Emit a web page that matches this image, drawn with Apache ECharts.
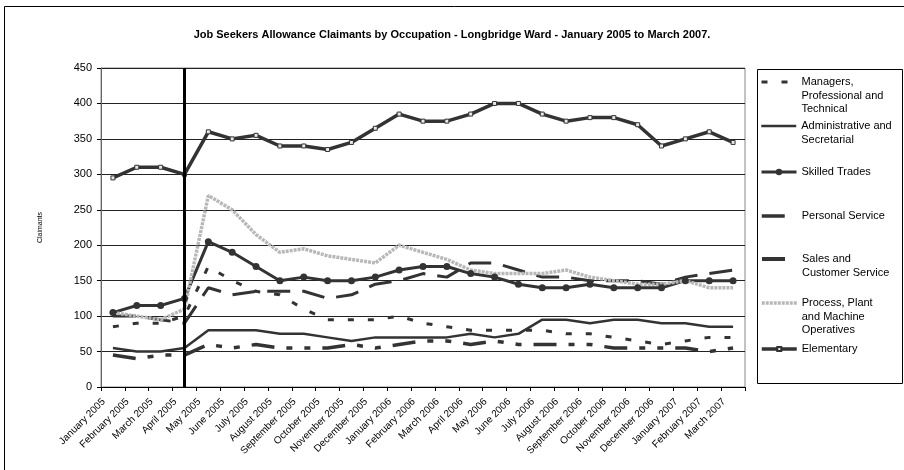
<!DOCTYPE html>
<html>
<head>
<meta charset="utf-8">
<title>Job Seekers Allowance Claimants by Occupation - Longbridge Ward</title>
<script src="https://cdn.jsdelivr.net/npm/echarts@6/dist/echarts.min.js"></script>
<style>
  html, body { margin: 0; padding: 0; background: #fff; }
  #chart { width: 904px; height: 470px; }
</style>
</head>
<body>
<div id="chart"></div>
<script>
// Months on the category axis
const months = [
  'January 2005', 'February 2005', 'March 2005', 'April 2005', 'May 2005', 'June 2005',
  'July 2005', 'August 2005', 'September 2005', 'October 2005', 'November 2005', 'December 2005',
  'January 2006', 'February 2006', 'March 2006', 'April 2006', 'May 2006', 'June 2006',
  'July 2006', 'August 2006', 'September 2006', 'October 2006', 'November 2006', 'December 2006',
  'January 2007', 'February 2007', 'March 2007'
];

// Claimant counts per occupation group
const managers   = [85, 90, 90, 100, 170, 150, 135, 130, 110, 95, 95, 95, 100, 90, 85, 80, 80, 80, 80, 75, 75, 70, 65, 60, 65, 70, 70];
const admin      = [55, 50, 50, 55, 80, 80, 80, 75, 75, 70, 65, 70, 70, 70, 70, 75, 70, 75, 95, 95, 90, 95, 95, 90, 90, 85, 85];
const skilled    = [105, 115, 115, 125, 205, 190, 170, 150, 155, 150, 150, 155, 165, 170, 170, 160, 155, 145, 140, 140, 145, 140, 140, 140, 150, 150, 150];
const personal   = [100, 100, 95, 90, 140, 130, 135, 135, 135, 125, 130, 145, 150, 160, 155, 175, 175, 165, 155, 155, 150, 150, 150, 145, 155, 160, 165];
const sales      = [45, 40, 45, 45, 60, 55, 60, 55, 55, 55, 60, 55, 60, 65, 65, 60, 65, 60, 60, 60, 60, 55, 55, 55, 55, 50, 55];
const process    = [105, 100, 95, 110, 270, 250, 215, 190, 195, 185, 180, 175, 200, 190, 180, 165, 160, 160, 160, 165, 155, 150, 145, 145, 150, 140, 140];
const elementary = [295, 310, 310, 300, 360, 350, 355, 340, 340, 335, 345, 365, 385, 375, 375, 385, 400, 400, 385, 375, 380, 380, 370, 340, 350, 360, 345];

// Legend entries: series name and its wrapped label lines
const legendNames = [
  ['Managers, Professional and Technical', ['Managers,', 'Professional and', 'Technical']],
  ['Administrative and Secretarial', ['Administrative and', 'Secretarial']],
  ['Skilled Trades', ['Skilled Trades']],
  ['Personal Service', ['Personal Service']],
  ['Sales and Customer Service', ['Sales and', 'Customer Service']],
  ['Process, Plant and Machine Operatives', ['Process, Plant', 'and Machine', 'Operatives']],
  ['Elementary', ['Elementary']]
];
const legendRowY = [82, 126, 172, 216, 259, 303, 349];
// marker visibility, key height and key line width for each legend row
const legendMarker = [false, false, true, false, false, false, true];
const legendKeyHeight = [12, 12, 8, 12, 12, 12, 5];
const legendKeyWidth = [3, 2.5, 3, 3.5, 4, 3.5, 3.5];

const FONT = '"Liberation Sans", Arial, sans-serif';
const DARK = '#333333';
const LH = 13.7;

const chart = echarts.init(document.getElementById('chart'), null, { renderer: 'canvas' });

// One legend block per entry so the key line sits beside the first text line
const legends = legendNames.map(function (entry, i) {
  const lines = entry[1];
  const n = lines.length;
  const block = {
    data: [entry[0]],
    left: 760,
    top: legendRowY[i] - (2 * n - 1) * LH / 2,
    padding: 0,
    itemWidth: 35,
    itemHeight: legendKeyHeight[i],
    selectedMode: false,
    lineStyle: { width: legendKeyWidth[i] },
    formatter: function () {
      return '\n'.repeat(n - 1) + lines.join('\n');
    },
    textStyle: { fontFamily: FONT, fontSize: 11, color: '#000', lineHeight: LH }
  };
  if (!legendMarker[i]) {
    block.itemStyle = { opacity: 0 };
  }
  return block;
});

function lineSeries(name, data, style, extra) {
  return Object.assign({
    name: name,
    type: 'line',
    data: data,
    symbol: 'none',
    animation: false,
    silent: true,
    emphasis: { disabled: true },
    lineStyle: style,
    itemStyle: { color: style.color }
  }, extra || {});
}

const option = {
  animation: false,
  backgroundColor: '#fff',
  title: {
    text: 'Job Seekers Allowance Claimants by Occupation - Longbridge Ward - January 2005 to March 2007.',
    left: 'center',
    top: 24,
    textStyle: { fontFamily: FONT, fontSize: 11, fontWeight: 'bold', color: '#000' }
  },
  graphic: [{
    type: 'rect',
    shape: { x: 4.5, y: 6.5, width: 1000, height: 1000 },
    style: { fill: 'none', stroke: '#000', lineWidth: 1 },
    silent: true
  }, {
    type: 'rect',
    shape: { x: 757.5, y: 69.5, width: 145, height: 314 },
    style: { fill: 'none', stroke: '#000', lineWidth: 1 },
    silent: true,
    z: -1
  }],
  legend: legends,
  grid: {
    left: 101, top: 68, right: 159, bottom: 83,
    show: true, borderColor: '#888', borderWidth: 1
  },
  xAxis: {
    type: 'category',
    data: months,
    boundaryGap: true,
    axisLine: { lineStyle: { color: '#000', width: 1 } },
    axisTick: { show: true, interval: 0, length: 4, lineStyle: { color: '#000' } },
    axisLabel: {
      interval: 0, rotate: 45, margin: 4, padding: [0, 13, 0, 0],
      fontFamily: FONT, fontSize: 10, color: '#000'
    },
    splitLine: { show: false }
  },
  yAxis: {
    type: 'value',
    min: 0, max: 450, interval: 50,
    name: 'Claimants',
    nameLocation: 'middle',
    nameRotate: 90,
    nameGap: 57,
    nameTextStyle: { fontFamily: FONT, fontSize: 7, color: '#000' },
    axisLine: { show: true, lineStyle: { color: '#666', width: 1 } },
    axisTick: { show: true, length: 4, lineStyle: { color: '#000' } },
    axisLabel: { margin: 9, fontFamily: FONT, fontSize: 11, color: '#000' },
    splitLine: { show: true, lineStyle: { color: '#222', width: 1 } }
  },
  series: [
    lineSeries(legendNames[0][0], managers, { color: DARK, width: 3, type: [6, 14] }, {
      markLine: {
        silent: true,
        symbol: 'none',
        label: { show: false },
        lineStyle: { color: '#000', width: 3, type: 'solid' },
        data: [{ xAxis: 'April 2005' }]
      }
    }),
    lineSeries(legendNames[1][0], admin, { color: DARK, width: 2.5, type: 'solid' }),
    lineSeries(legendNames[2][0], skilled, { color: DARK, width: 3, type: 'solid' }, {
      symbol: 'circle', symbolSize: 7, showSymbol: true,
      itemStyle: { color: DARK }
    }),
    lineSeries(legendNames[3][0], personal, { color: DARK, width: 3, type: [23, 12] }),
    lineSeries(legendNames[4][0], sales, { color: DARK, width: 3.5, type: [23, 12, 6, 12, 6, 12] }),
    lineSeries(legendNames[5][0], process, { color: '#b8b8b8', width: 3.5, type: [3, 1] }),
    lineSeries(legendNames[6][0], elementary, { color: DARK, width: 3.5, type: 'solid' }, {
      symbol: 'rect', symbolSize: 4, showSymbol: true,
      itemStyle: { color: '#e8e8e8', borderColor: DARK, borderWidth: 1 }
    })
  ]
};

chart.setOption(option);
</script>
</body>
</html>
